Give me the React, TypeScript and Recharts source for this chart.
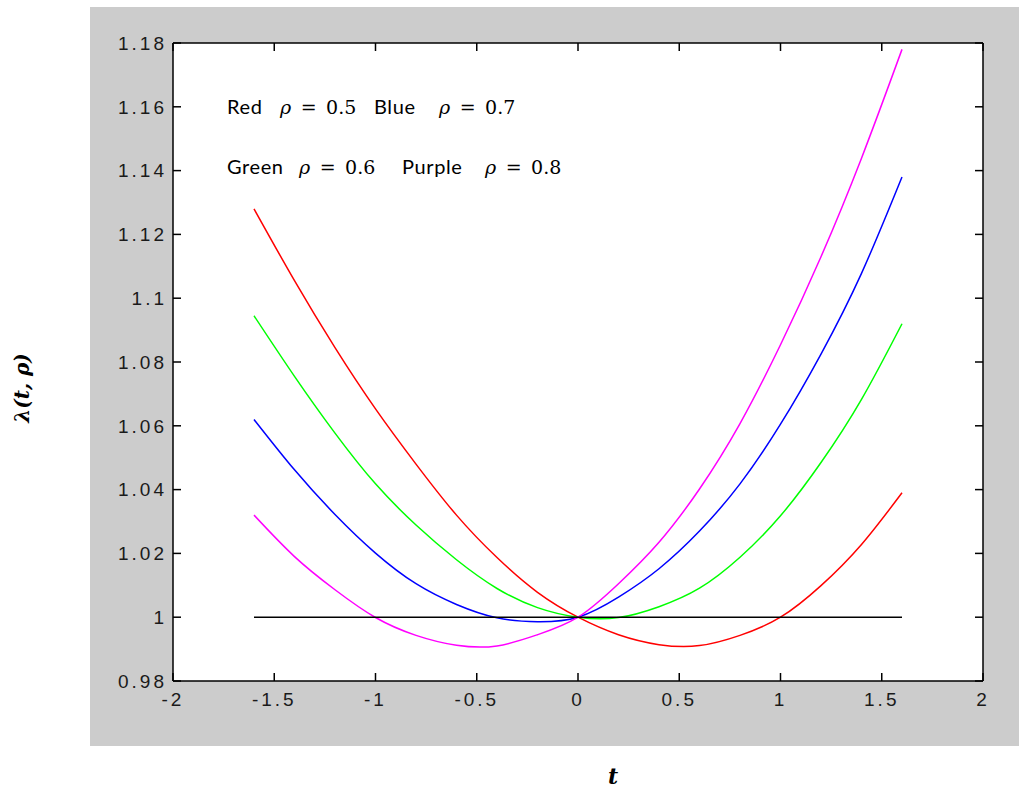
import { LineChart, Line, XAxis, YAxis } from "recharts";

// sample points along t
const tValues = [-1.6, -1.4, -1.2, -1.0, -0.8, -0.6, -0.4, -0.2, 0, 0.2, 0.4, 0.6, 0.8, 1.0, 1.2, 1.4, 1.6];

const redRho05 = [1.128, 1.1055, 1.0845, 1.0653, 1.048, 1.032, 1.0187, 1.0078, 1.0, 0.9945, 0.9914, 0.9911, 0.9943, 1.0, 1.0099, 1.0228, 1.039];
const greenRho06 = [1.0945, 1.0755, 1.0577, 1.0418, 1.0289, 1.018, 1.009, 1.003, 1.0, 0.9999, 1.0033, 1.0091, 1.0188, 1.0318, 1.0485, 1.0683, 1.092];
const blueRho07 = [1.062, 1.0462, 1.0322, 1.0201, 1.0105, 1.004, 0.9998, 0.9986, 1.0, 1.0063, 1.0152, 1.027, 1.0418, 1.0605, 1.0825, 1.1078, 1.138];
const purpleRho08 = [1.032, 1.019, 1.0086, 0.9999, 0.9943, 0.9912, 0.991, 0.9945, 1.0, 1.0105, 1.0235, 1.0402, 1.0607, 1.0854, 1.113, 1.1439, 1.178];
const unityLine = [1, 1, 1, 1, 1, 1, 1, 1, 1, 1, 1, 1, 1, 1, 1, 1, 1];

const xTicks = [-2, -1.5, -1, -0.5, 0, 0.5, 1, 1.5, 2];
const yTicks = [0.98, 1.0, 1.02, 1.04, 1.06, 1.08, 1.1, 1.12, 1.14, 1.16, 1.18];

const data = tValues.map((t, i) => ({
  t,
  red: redRho05[i],
  green: greenRho06[i],
  blue: blueRho07[i],
  purple: purpleRho08[i],
  unity: unityLine[i],
}));

const tickFont = {
  fontFamily: "'Liberation Sans', Arial, sans-serif",
  fontSize: 19,
  fill: "#1a1a1a",
  letterSpacing: 3,
};

const noLabel = () => <g />;

const wordStyle: React.CSSProperties = {
  position: "absolute",
  fontFamily: "Lato, 'Noto Sans', sans-serif",
  fontSize: 20,
  letterSpacing: 0.6,
  color: "#000",
  whiteSpace: "nowrap",
  lineHeight: 1,
};

const mathStyle: React.CSSProperties = {
  ...wordStyle,
  fontFamily: "'DejaVu Serif', serif",
  fontSize: 19,
  letterSpacing: 0,
};

function Rho({ left, top, value }: { left: number; top: number; value: string }) {
  return (
    <div style={{ ...mathStyle, left, top }}>
      <i>ρ</i>{"\u2002=\u2002"}{value}
    </div>
  );
}

export default function App() {
  const axisStroke = { stroke: "#000", strokeWidth: 1.5 };
  return (
    <div style={{ position: "absolute", left: 0, top: 0, width: 1019, height: 789, background: "#fff", overflow: "hidden" }}>
      <div style={{ position: "absolute", left: 90, top: 7, width: 929, height: 739, background: "#cccccc" }} />
      <div style={{ position: "absolute", left: 173, top: 43, width: 810, height: 638, background: "#fff" }} />
      <div style={{ position: "absolute", left: 0, top: 0 }}>
        <LineChart
          width={1019}
          height={789}
          data={data}
          margin={{ top: 42, right: 35, left: 113, bottom: 78 }}
        >
          <XAxis
            dataKey="t"
            type="number"
            domain={[-2, 2]}
            ticks={xTicks}
            allowDataOverflow
            height={30}
            tickSize={-8}
            tickMargin={20}
            tick={tickFont}
            axisLine={axisStroke}
            tickLine={axisStroke}
          />
          <XAxis
            xAxisId="top"
            orientation="top"
            dataKey="t"
            type="number"
            domain={[-2, 2]}
            ticks={xTicks}
            allowDataOverflow
            height={1}
            tickSize={-8}
            tick={noLabel}
            axisLine={axisStroke}
            tickLine={axisStroke}
          />
          <YAxis
            type="number"
            domain={[0.98, 1.18]}
            ticks={yTicks}
            allowDataOverflow
            width={60}
            tickSize={-8}
            tickMargin={14}
            tick={tickFont}
            axisLine={axisStroke}
            tickLine={axisStroke}
          />
          <YAxis
            yAxisId="right"
            orientation="right"
            type="number"
            domain={[0.98, 1.18]}
            ticks={yTicks}
            allowDataOverflow
            width={1}
            tickSize={-8}
            tick={noLabel}
            axisLine={axisStroke}
            tickLine={axisStroke}
          />
          <Line type="natural" dataKey="red" stroke="#ff0000" strokeWidth={1.5} dot={false} isAnimationActive={false} />
          <Line type="natural" dataKey="green" stroke="#00ff00" strokeWidth={1.5} dot={false} isAnimationActive={false} />
          <Line type="natural" dataKey="blue" stroke="#0000ff" strokeWidth={1.5} dot={false} isAnimationActive={false} />
          <Line type="natural" dataKey="purple" stroke="#ff00ff" strokeWidth={1.5} dot={false} isAnimationActive={false} />
          <Line type="linear" dataKey="unity" stroke="#000" strokeWidth={1.5} dot={false} isAnimationActive={false} />
        </LineChart>
      </div>

      {/* legend text inside the axes */}
      <div style={{ ...wordStyle, left: 227, top: 96 }}>Red</div>
      <Rho left={280} top={98} value="0.5" />
      <div style={{ ...wordStyle, left: 374, top: 96 }}>Blue</div>
      <Rho left={439} top={98} value="0.7" />
      <div style={{ ...wordStyle, left: 227, top: 156 }}>Green</div>
      <Rho left={299} top={158} value="0.6" />
      <div style={{ ...wordStyle, left: 402, top: 156 }}>Purple</div>
      <Rho left={485} top={158} value="0.8" />

      {/* axis titles */}
      <div
        style={{
          position: "absolute",
          left: 22,
          top: 388,
          transform: "translate(-50%, -50%) rotate(-90deg)",
          fontFamily: "'DejaVu Serif', serif",
          fontWeight: "bold",
          fontStyle: "italic",
          fontSize: 20,
          lineHeight: 1,
          whiteSpace: "nowrap",
        }}
      >
        λ(t, ρ)
      </div>
      <div
        style={{
          position: "absolute",
          left: 613,
          top: 776,
          transform: "translate(-50%, -50%)",
          fontFamily: "'DejaVu Serif', serif",
          fontWeight: "bold",
          fontStyle: "italic",
          fontSize: 22,
          lineHeight: 1,
        }}
      >
        t
      </div>
    </div>
  );
}
